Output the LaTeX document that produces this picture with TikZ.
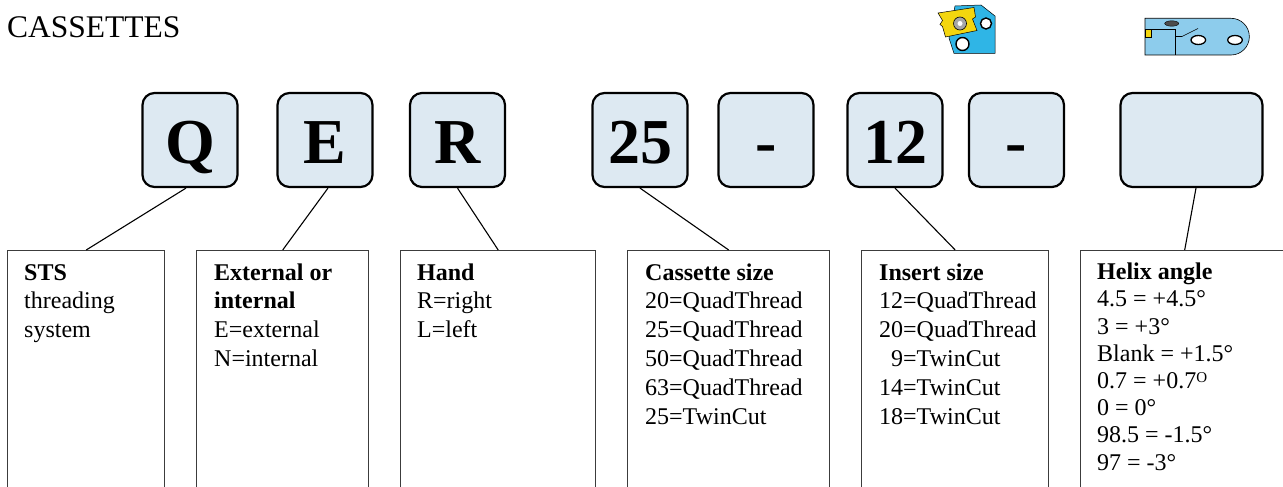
\documentclass[tikz,border=0pt]{standalone}
\usepackage{fontspec}
\setmainfont{Liberation Serif}
\usetikzlibrary{calc}
\definecolor{keyfill}{HTML}{DDE9F2}
\definecolor{framegray}{HTML}{3C3C3C}
\definecolor{cassblue}{HTML}{2FB5E6}
\definecolor{holderblue}{HTML}{8DCCEC}
\definecolor{insyellow}{HTML}{F3D60F}

% a left-aligned block of lines with a given line pitch
\newcommand{\linesblock}[2]{{\fontsize{24}{#1}\selectfont\begin{tabular}{@{}l@{}}#2\end{tabular}}}

\begin{document}
\begin{tikzpicture}[x=1pt,y=-1pt,
  keybox/.style={draw=black,line width=2.2pt,fill=keyfill,rounded corners=12pt,
    minimum width=95pt,minimum height=94pt,inner sep=0pt,
    text height=46pt,text depth=0pt,font=\fontsize{64}{64}\selectfont\bfseries},
  infobox/.style={draw=framegray,line width=1.4pt,anchor=north west,
    minimum height=280pt,inner sep=0pt},
  infotext/.style={anchor=north west,inner sep=0pt},
  lead/.style={draw=black,line width=1.1pt}]

\useasboundingbox (0,0) rectangle (1283,487);
\clip (0,0) rectangle (1283,487);

% heading
\node[anchor=base west,inner sep=0pt,font=\fontsize{31.5}{36}\selectfont] (title) at (7,37.5) {CASSETTES};

% cassette icon
\draw[fill=cassblue,line width=0.5pt] (955,6) -- (981,5) -- (995,16) -- (995,53.5)
  -- (954,53.5) -- (949,38) -- cycle;
\draw[fill=white,line width=1.4pt] (986,23.5) circle (5.5);
\draw[fill=white,line width=1.4pt] (962.5,44) circle (6.5);
\draw[fill=insyellow,line width=0.5pt] (938,13) -- (974,7.5) -- (975.5,17) -- (972.5,19)
  -- (977,30.5) -- (945.5,37) -- (942.5,26.5) -- (940,24.5) -- (942.5,20.5) -- cycle;
\draw[fill=gray!70,line width=0.6pt] (960,23.5) circle (6.5);
\fill[white] (960,23.5) circle (2.5);

% holder icon
\draw[fill=holderblue,line width=0.6pt] (1145,18.3) -- (1231,18.3)
  arc[start angle=90,end angle=-90,radius=18.35pt] -- (1145,55) -- cycle;
\draw[line width=0.6pt] (1145,29) -- (1175,29) -- (1175,55);
\draw[line width=0.6pt] (1175,36.5) -- (1182,36.5) -- (1198,28.5);
\draw[fill=gray!60!black,line width=0.4pt] (1171.7,23.5) ellipse[x radius=7pt,y radius=2.7pt];
\draw[fill=white,line width=1.3pt] (1198.3,40) ellipse[x radius=7.3pt,y radius=4.5pt];
\draw[fill=white,line width=1.3pt] (1235,40) ellipse[x radius=7.3pt,y radius=4.5pt];
\draw[fill=insyellow,line width=0.5pt] (1145,29) rectangle (1151,37.5);

% code letters
\node[keybox] (kq) at (190,140) {Q};
\node[keybox] (ke) at (325,140) {E};
\node[keybox] (kr) at (457.5,140) {R};
\node[keybox] (ksize) at (640,140) {25};
\node[keybox] (kdasha) at (766,140) {-};
\node[keybox] (kinsert) at (895,140) {12};
\node[keybox] (kdashb) at (1016.5,140) {-};
\node[keybox,minimum width=142pt] (khelix) at (1191.5,140) {};

% explanation frames
\node[infobox,minimum width=157pt] (bsts) at (7,250) {};
\node[infobox,minimum width=172pt] (bext) at (196,250) {};
\node[infobox,minimum width=195pt] (bhand) at (400,250) {};
\node[infobox,minimum width=202pt] (bsize) at (627,250) {};
\node[infobox,minimum width=187pt] (binsert) at (861,250) {};
\node[infobox,minimum width=208pt] (bhelix) at (1080,250) {};

% leaders
\draw[lead] ($(kq.south)+(-4,0)$) -- (bsts.north);
\draw[lead] ($(ke.south)+(3,0)$) -- (bext.north);
\draw[lead] (kr.south) -- (bhand.north);
\draw[lead] (ksize.south) -- (bsize.north);
\draw[lead] (kinsert.south) -- (binsert.north);
\draw[lead] ($(khelix.south)+(4.5,0)$) -- (bhelix.north);

% explanations
\node[infotext] (tsts) at (24,259.8) {\linesblock{28.8}{\textbf{STS}\\threading\\system}};
\node[infotext] (text) at (214,259.8) {\linesblock{28.8}{\textbf{External or}\\\textbf{internal}\\E=external\\N=internal}};
\node[infotext] (thand) at (417,259.8) {\linesblock{28.8}{\textbf{Hand}\\R=right\\L=left}};
\node[infotext] (tsize) at (645,259.8) {\linesblock{28.8}{\textbf{Cassette size}\\20=QuadThread\\25=QuadThread\\50=QuadThread\\63=QuadThread\\25=TwinCut}};
\node[infotext] (tinsert) at (879,259.8) {\linesblock{28.8}{\textbf{Insert size}\\12=QuadThread\\20=QuadThread\\\phantom{1}9=TwinCut\\14=TwinCut\\18=TwinCut}};
\node[infotext] (thelix) at (1097,260.5) {\linesblock{27.2}{\textbf{Helix angle}\\4.5 = +4.5°\\3 = +3°\\Blank = +1.5°\\0.7 = +0.7{\fontsize{15}{15}\selectfont\raisebox{6.5pt}{O}}\\0 = 0°\\98.5 = -1.5°\\97 = -3°}};

\end{tikzpicture}
\end{document}
